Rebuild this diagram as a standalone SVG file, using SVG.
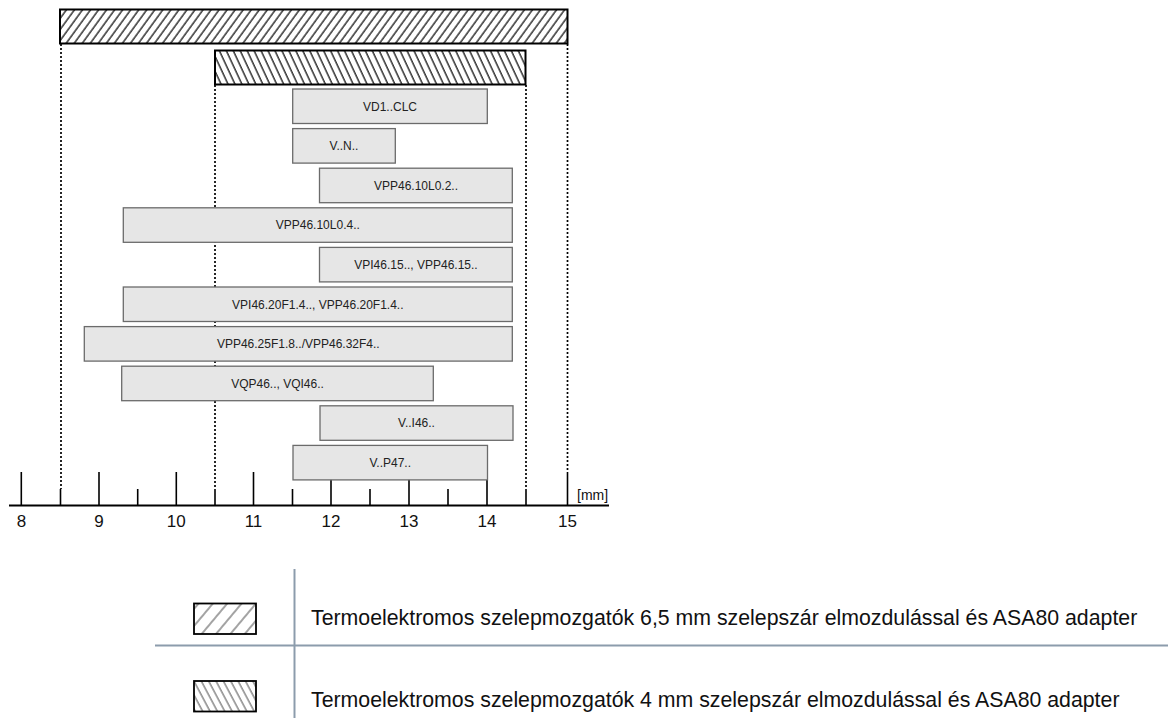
<svg xmlns="http://www.w3.org/2000/svg" width="1168" height="718" viewBox="0 0 1168 718">
<style>
.bar{fill:#e6e6e6;stroke:#6b6b6b;stroke-width:1.3}
.lbl{font-family:"Liberation Sans",Arial,sans-serif;font-size:12px;fill:#222;text-anchor:middle}
.ax{font-family:"Liberation Sans",Arial,sans-serif;font-size:17px;fill:#111;text-anchor:middle}
.leg{font-family:"Liberation Sans",Arial,sans-serif;font-size:21.3px;fill:#111}
.dot{stroke:#000;stroke-width:1.7;stroke-dasharray:2 2;fill:none}
.tick{stroke:#000;stroke-width:1.6}
.hatchbox{stroke:#000;stroke-width:2}
.sep{stroke:#8c9cac;stroke-width:2}
</style>
<defs>
<pattern id="hA" patternUnits="userSpaceOnUse" width="6.5" height="10" patternTransform="rotate(36)">
<line x1="1" y1="0" x2="1" y2="10" stroke="#000" stroke-width="1.2"/>
</pattern>
<pattern id="hB" patternUnits="userSpaceOnUse" width="6.3" height="10" patternTransform="rotate(-25)">
<line x1="1" y1="0" x2="1" y2="10" stroke="#000" stroke-width="1.2"/>
</pattern>
<pattern id="hAl" patternUnits="userSpaceOnUse" width="11" height="10" patternTransform="rotate(40)">
<line x1="1" y1="0" x2="1" y2="10" stroke="#333" stroke-width="0.9"/>
</pattern>
<pattern id="hBl" patternUnits="userSpaceOnUse" width="6.5" height="10" patternTransform="rotate(-28)">
<line x1="1" y1="0" x2="1" y2="10" stroke="#333" stroke-width="0.9"/>
</pattern>
</defs>
<rect width="1168" height="718" fill="#fff"/>

<g id="guides">
<line class="dot" x1="61" y1="44" x2="61" y2="489"/>
<line class="dot" x1="215" y1="85" x2="215" y2="489"/>
<line class="dot" x1="526" y1="85" x2="526" y2="489"/>
<line class="dot" x1="567.5" y1="44" x2="567.5" y2="472"/>
</g>

<g id="range-65">
<rect class="hatchbox" x="60" y="9.5" width="507.5" height="34" fill="url(#hA)"/>
</g>
<g id="range-4">
<rect class="hatchbox" x="215" y="50.5" width="310.5" height="34" fill="url(#hB)"/>
</g>

<g id="axis">
<line x1="9" y1="505.5" x2="609" y2="505.5" stroke="#000" stroke-width="2"/>
<line class="tick" x1="21.3" y1="472" x2="21.3" y2="505"/>
<line class="tick" x1="60.5" y1="489" x2="60.5" y2="505"/>
<line class="tick" x1="99" y1="472" x2="99" y2="505"/>
<line class="tick" x1="137.7" y1="489" x2="137.7" y2="505"/>
<line class="tick" x1="176.3" y1="472" x2="176.3" y2="505"/>
<line class="tick" x1="215" y1="489" x2="215" y2="505"/>
<line class="tick" x1="253.5" y1="472" x2="253.5" y2="505"/>
<line class="tick" x1="292.5" y1="489" x2="292.5" y2="505"/>
<line class="tick" x1="331" y1="472" x2="331" y2="505"/>
<line class="tick" x1="370" y1="489" x2="370" y2="505"/>
<line class="tick" x1="409" y1="472" x2="409" y2="505"/>
<line class="tick" x1="448" y1="489" x2="448" y2="505"/>
<line class="tick" x1="487" y1="472" x2="487" y2="505"/>
<line class="tick" x1="526" y1="489" x2="526" y2="505"/>
<line class="tick" x1="567.5" y1="472" x2="567.5" y2="505"/>
<text class="ax" x="21.5" y="526.5">8</text>
<text class="ax" x="99" y="526.5">9</text>
<text class="ax" x="176.3" y="526.5">10</text>
<text class="ax" x="253.5" y="526.5">11</text>
<text class="ax" x="331" y="526.5">12</text>
<text class="ax" x="409" y="526.5">13</text>
<text class="ax" x="487" y="526.5">14</text>
<text class="ax" x="567.5" y="526.5">15</text>
<text x="577" y="499.5" font-family="Liberation Sans, Arial, sans-serif" font-size="14" fill="#111">[mm]</text>
</g>

<g id="vd1clc"><rect class="bar" x="292.7" y="89" width="194.6" height="34.5"/><text class="lbl" x="390" y="110.5">VD1..CLC</text></g>
<g id="vn"><rect class="bar" x="292.7" y="128.6" width="102.6" height="34.5"/><text class="lbl" x="344" y="150.1">V..N..</text></g>
<g id="vpp4610l02"><rect class="bar" x="319.5" y="168.2" width="192.8" height="34.5"/><text class="lbl" x="416" y="189.7">VPP46.10L0.2..</text></g>
<g id="vpp4610l04"><rect class="bar" x="123.3" y="207.8" width="389" height="34.5"/><text class="lbl" x="317.8" y="229.3">VPP46.10L0.4..</text></g>
<g id="vpi4615"><rect class="bar" x="319.5" y="247.4" width="192.8" height="34.5"/><text class="lbl" x="416" y="268.9">VPI46.15.., VPP46.15..</text></g>
<g id="vpi4620"><rect class="bar" x="123.3" y="287" width="389" height="34.5"/><text class="lbl" x="317.8" y="308.5">VPI46.20F1.4.., VPP46.20F1.4..</text></g>
<g id="vpp4625"><rect class="bar" x="84.3" y="326.6" width="428" height="34.5"/><text class="lbl" x="298.3" y="348.1">VPP46.25F1.8../VPP46.32F4..</text></g>
<g id="vqp46"><rect class="bar" x="121.7" y="366.2" width="311.6" height="34.5"/><text class="lbl" x="277.5" y="387.7">VQP46.., VQI46..</text></g>
<g id="vi46"><rect class="bar" x="320" y="405.8" width="193" height="34.5"/><text class="lbl" x="416.5" y="427.3">V..I46..</text></g>
<g id="vp47"><rect class="bar" x="293" y="445.4" width="194.5" height="34.5"/><text class="lbl" x="390.2" y="466.9">V..P47..</text></g>

<g id="legend">
<line class="sep" x1="294.5" y1="569" x2="294.5" y2="718"/>
<line class="sep" x1="155" y1="645.5" x2="1168" y2="645.5"/>
<g id="legend-65">
<rect x="194" y="603.5" width="62" height="30.5" fill="url(#hAl)" stroke="#000" stroke-width="1.8"/>
<text class="leg" x="311" y="624.5">Termoelektromos szelepmozgatók 6,5 mm szelepszár elmozdulással és ASA80 adapter</text>
</g>
<g id="legend-4">
<rect x="194" y="681" width="62" height="30.5" fill="url(#hBl)" stroke="#000" stroke-width="1.8"/>
<text class="leg" x="311" y="706.5">Termoelektromos szelepmozgatók 4 mm szelepszár elmozdulással és ASA80 adapter</text>
</g>
</g>
</svg>
